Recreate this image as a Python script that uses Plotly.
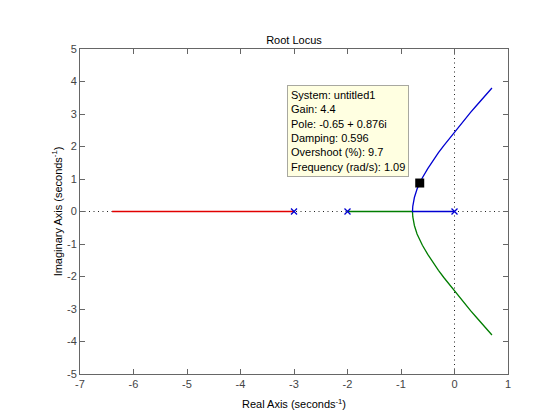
import plotly.graph_objects as go

# Branch data (real, imaginary)
blue_re = [0.0, -0.2, -0.4, -0.6, -0.785, -0.78, -0.77, -0.75, -0.70, -0.65, -0.60, -0.50, -0.40,
           -0.30, -0.20, -0.10, 0.0, 0.10, 0.20, 0.30, 0.40, 0.50, 0.60, 0.70]
blue_im = [0.0, 0.0, 0.0, 0.0, 0.0, 0.16, 0.28, 0.43, 0.69, 0.88, 1.04, 1.32, 1.58,
           1.81, 2.03, 2.24, 2.45, 2.65, 2.85, 3.05, 3.24, 3.43, 3.62, 3.80]
green_re = [-2.0, -1.6, -1.2, -0.9, -0.785, -0.78, -0.77, -0.75, -0.70, -0.65, -0.60, -0.50, -0.40,
            -0.30, -0.20, -0.10, 0.0, 0.10, 0.20, 0.30, 0.40, 0.50, 0.60, 0.70]
green_im = [0.0, 0.0, 0.0, 0.0, 0.0, -0.16, -0.28, -0.43, -0.69, -0.88, -1.04, -1.32, -1.58,
            -1.81, -2.03, -2.24, -2.45, -2.65, -2.85, -3.05, -3.24, -3.43, -3.62, -3.80]
red_re = [-3.0, -4.0, -5.0, -6.0, -6.4]
red_im = [0.0, 0.0, 0.0, 0.0, 0.0]
pole_re = [0.0, -2.0, -3.0]
pole_im = [0.0, 0.0, 0.0]
sel_re = [-0.65]
sel_im = [0.876]
x_ticks = [-7, -6, -5, -4, -3, -2, -1, 0, 1]
x_labels = ["-7", "-6", "-5", "-4", "-3", "-2", "-1", "0", "1"]
y_ticks = [-5, -4, -3, -2, -1, 0, 1, 2, 3, 4, 5]
y_labels = ["-5", "-4", "-3", "-2", "-1", "0", "1", "2", "3", "4", "5"]
tip_lines = ["System: untitled1", "Gain: 4.4", "Pole: -0.65 + 0.876i", "Damping: 0.596",
             "Overshoot (%): 9.7", "Frequency (rad/s): 1.09"]

FONT = "Liberation Sans, Arial, sans-serif"
RED = "rgb(225,0,0)"
GREEN = "rgb(0,125,0)"
BLUE = "rgb(0,0,210)"
fig = go.Figure()

# dotted axes lines (drawn first, beneath the branches)
dot = dict(color="#222222", width=1, dash="1px,3.5px")
fig.add_trace(go.Scatter(x=[-7, 1], y=[0, 0], mode="lines", line=dot, hoverinfo="skip"))
fig.add_trace(go.Scatter(x=[0, 0], y=[-5, 5], mode="lines", line=dot, hoverinfo="skip"))

fig.add_trace(go.Scatter(x=red_re, y=red_im, mode="lines",
                         line=dict(color=RED, width=1.5)))
fig.add_trace(go.Scatter(x=green_re, y=green_im, mode="lines",
                         line=dict(color=GREEN, width=1.3)))
fig.add_trace(go.Scatter(x=blue_re, y=blue_im, mode="lines",
                         line=dict(color=BLUE, width=1.3)))
fig.add_trace(go.Scatter(x=pole_re, y=pole_im, mode="markers",
                         marker=dict(symbol="x-thin-open", size=6, color=BLUE,
                                     line=dict(width=1.3, color=BLUE))))
fig.add_trace(go.Scatter(x=sel_re, y=sel_im, mode="markers",
                         marker=dict(symbol="square", size=9, color="black")))

fig.add_annotation(xref="paper", yref="paper", x=(287 - 80) / 428, y=1 - (85 - 49) / 325,
                   xanchor="left", yanchor="top", align="left", showarrow=False,
                   text="<br>".join(tip_lines),
                   font=dict(family=FONT, size=11, color="black"),
                   bgcolor="#ffffe1", bordercolor="#a8a8a0", borderwidth=1, borderpad=3)

axis_common = dict(showline=True, mirror="ticks", ticks="inside", ticklen=5,
                   linecolor="#666666", tickcolor="#666666", linewidth=1,
                   showgrid=False, zeroline=False,
                   tickfont=dict(family=FONT, size=11, color="#444444"))

fig.update_layout(
    width=560, height=420,
    margin=dict(l=80, r=52, t=49, b=46),
    paper_bgcolor="white", plot_bgcolor="white",
    showlegend=False,
    font=dict(family=FONT, size=11, color="black"),
    title=dict(text="Root Locus", x=(80 + 508) / 2 / 560, xanchor="center",
               y=1 - 40 / 420, yanchor="middle", yref="container",
               font=dict(family=FONT, size=11, color="black")),
    xaxis=dict(range=[-7, 1], tickvals=x_ticks, ticktext=x_labels,
               title=dict(text="Real Axis (seconds<sup>-1</sup>)", standoff=11,
                          font=dict(family=FONT, size=11, color="black")),
               **axis_common),
    yaxis=dict(range=[-5, 5], tickvals=y_ticks, ticktext=y_labels,
               title=dict(text="Imaginary Axis (seconds<sup>-1</sup>)", standoff=2,
                          font=dict(family=FONT, size=11, color="black")),
               **axis_common),
)

fig.write_html("out.html")
